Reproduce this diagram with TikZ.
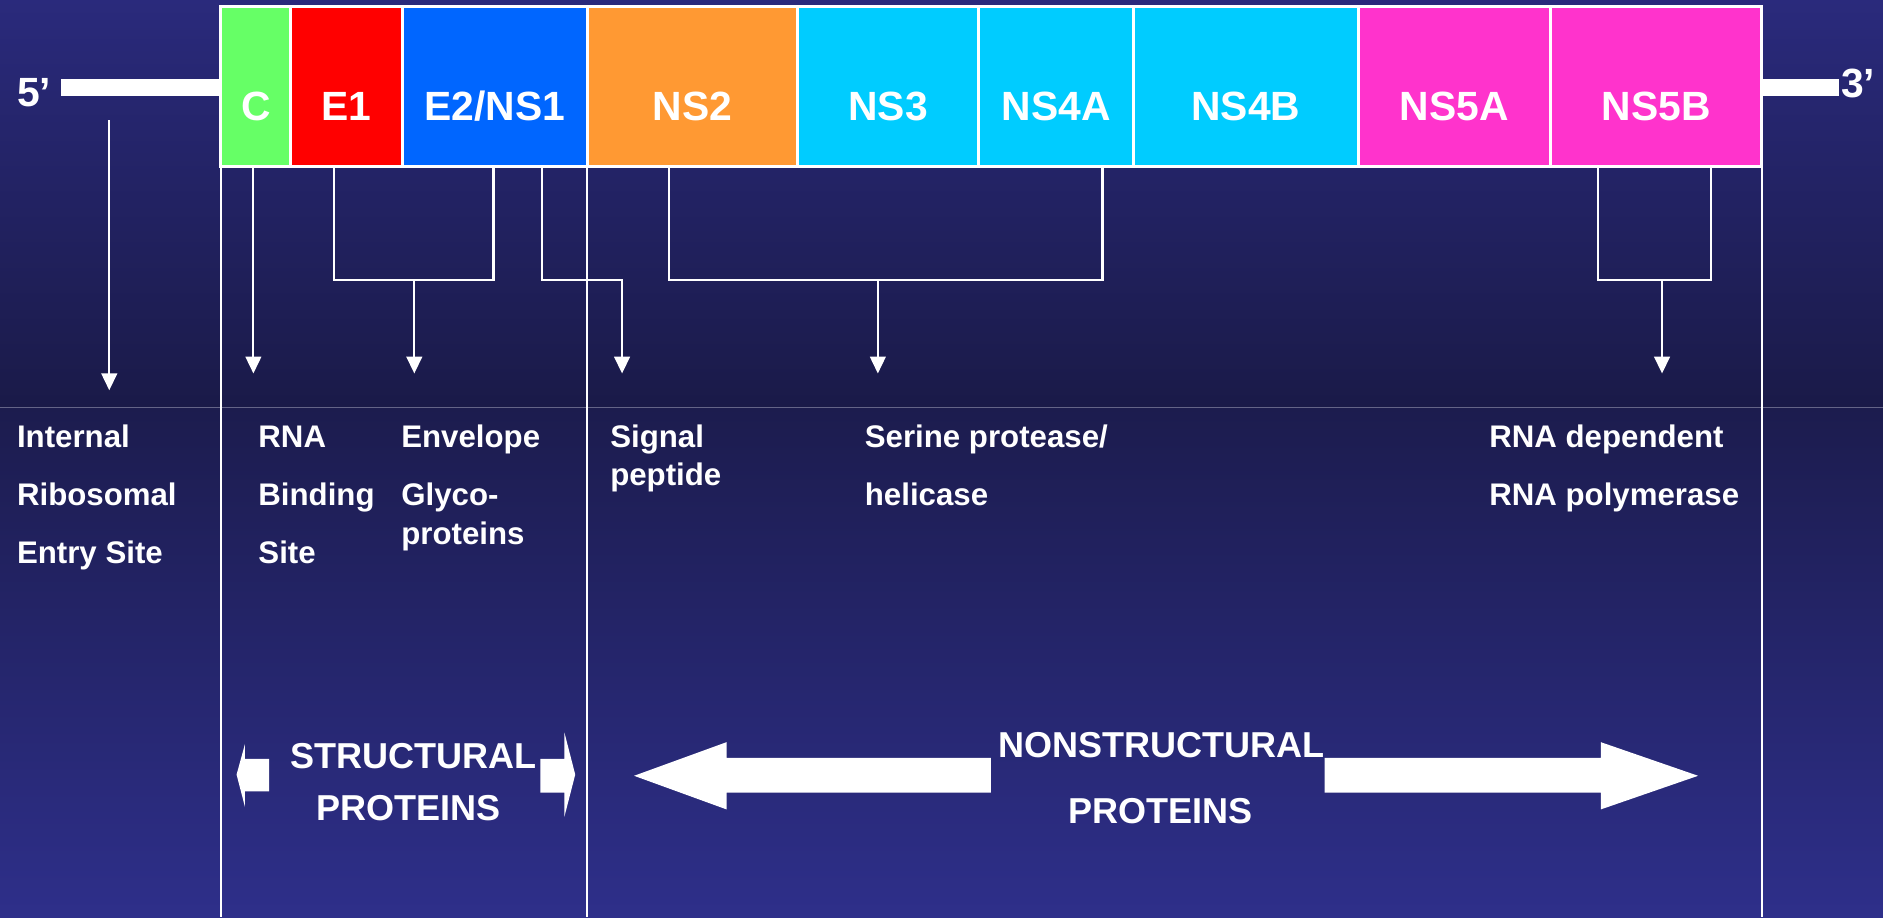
\documentclass[tikz,border=0pt]{standalone}
\usepackage{fontspec}
\setmainfont{Liberation Sans}
\usetikzlibrary{arrows.meta}
\definecolor{bgtop}{RGB}{42,42,124}
\definecolor{bgmid}{RGB}{26,26,72}
\definecolor{bgmidb}{RGB}{28,28,78}
\definecolor{bgbot}{RGB}{46,47,138}
\definecolor{cgreen}{RGB}{102,255,102}
\definecolor{cred}{RGB}{255,0,0}
\definecolor{cblue}{RGB}{0,102,255}
\definecolor{corange}{RGB}{255,153,51}
\definecolor{ccyan}{RGB}{0,204,255}
\definecolor{cmag}{RGB}{255,51,204}
\definecolor{sepgrey}{RGB}{100,100,135}
\begin{document}
\begin{tikzpicture}[x=1pt,y=-1pt,
 cell/.style={draw=white, line width=2.5pt, anchor=base, inner xsep=0pt, inner ysep=0pt, outer sep=0pt,
   text height=95pt, text depth=39pt, text=white, font=\fontsize{34}{40}\selectfont\bfseries},
 lbl/.style={anchor=base west, inner sep=0pt, text=white, font=\fontsize{26}{30}\selectfont\bfseries},
 endlbl/.style={anchor=base west, inner sep=0pt, text=white, font=\fontsize{34}{40}\selectfont\bfseries},
 big/.style={anchor=base, inner sep=0pt, text=white, font=\fontsize{30}{36}\selectfont\bfseries},
 conn/.style={draw=white, line width=1.8pt},
 frame/.style={draw=white, line width=2pt},
 arr/.style={conn, -{Triangle[width=13pt,length=14pt]}},
 bigarrow/.style={fill=white}]
\useasboundingbox (0,0) rectangle (1568,764);
% background
\shade[top color=bgtop, bottom color=bgmid] (0,0) rectangle (1568,339);
\shade[top color=bgmidb, bottom color=bgbot] (0,339) rectangle (1568,764);
\draw[sepgrey, line width=1pt] (0,339) -- (1568,339);

% cells
\node[cell, fill=cgreen, minimum width=58pt] (C) at (213,100) {C};
\node[cell, fill=cred, minimum width=93pt] (E1) at (288.5,100) {E1};
\node[cell, fill=cblue, minimum width=154pt] (E2) at (412,100) {E2/NS1};
\node[cell, fill=corange, minimum width=175pt] (NS2) at (576.5,100) {NS2};
\node[cell, fill=ccyan, minimum width=151pt] (NS3) at (739.5,100) {NS3};
\node[cell, fill=ccyan, minimum width=129pt] (NS4A) at (879.5,100) {NS4A};
\node[cell, fill=ccyan, minimum width=187pt] (NS4B) at (1037.5,100) {NS4B};
\node[cell, fill=cmag, minimum width=160pt] (NS5A) at (1211,100) {NS5A};
\node[cell, fill=cmag, minimum width=176pt] (NS5B) at (1379,100) {NS5B};

% frame lines
\coordinate (fL) at (184,764);
\coordinate (fM) at (489,764);
\coordinate (fR) at (1467,764);
\draw[frame] (C.south west) -- (fL);
\draw[frame] (E2.south east) -- (fM);
\draw[frame] (NS5B.south east) -- (fR);

% 5' and 3' ends
\coordinate (b5a) at (51,66);
\coordinate (b3b) at (1531,80);
\fill[white] (b5a) rectangle (184,80);
\fill[white] (1466,66) rectangle (b3b);
\node[endlbl] (five) at (14,89) {5’};
\node[endlbl] (three) at (1533,81) {3’};

% connectors
\coordinate (iresS) at (91,100);
\coordinate (iresE) at (91,325);
\draw[arr] (iresS) -- (iresE);

\coordinate (cS) at (211,139);
\coordinate (cE) at (211,311);
\draw[arr] (cS) -- (cE);

\coordinate (e1a) at (278,139);
\coordinate (e1b) at (411,139);
\coordinate (e1m) at (345,233);
\coordinate (e1E) at (345,311);
\draw[conn] (e1a) |- (e1b |- e1m) -- (e1b);
\draw[arr] (e1m) -- (e1E);

\coordinate (spS) at (451,139);
\coordinate (spE) at (518,311);
\draw[arr] (spS) |- (518,233) -- (spE);

\coordinate (n3a) at (557,139);
\coordinate (n3b) at (918,139);
\coordinate (n3m) at (731,233);
\coordinate (n3E) at (731,311);
\draw[conn] (n3a) |- (n3b |- n3m) -- (n3b);
\draw[arr] (n3m) -- (n3E);

\coordinate (n5a) at (1331,139);
\coordinate (n5b) at (1425,139);
\coordinate (n5m) at (1384,233);
\coordinate (n5E) at (1384,311);
\draw[conn] (n5a) |- (n5b |- n5m) -- (n5b);
\draw[arr] (n5m) -- (n5E);

% labels
\node[lbl] (ires1) at (14,373) {Internal};
\node[lbl] (ires2) at (14,421) {Ribosomal};
\node[lbl] (ires3) at (14,469) {Entry Site};
\node[lbl] (rna1) at (215,373) {RNA};
\node[lbl] (rna2) at (215,421) {Binding};
\node[lbl] (rna3) at (215,469) {Site};
\node[lbl] (env1) at (334,373) {Envelope};
\node[lbl] (env2) at (334,421) {Glyco-};
\node[lbl] (env3) at (334,453) {proteins};
\node[lbl] (sig1) at (508,373) {Signal};
\node[lbl] (sig2) at (508,404) {peptide};
\node[lbl] (ser1) at (720,373) {Serine protease/};
\node[lbl] (ser2) at (720,421) {helicase};
\node[lbl] (pol1) at (1240,373) {RNA dependent};
\node[lbl] (pol2) at (1240,421) {RNA polymerase};

% big arrows
\fill[bigarrow] (197,645) -- (204,619.5) -- (204,632) -- (224,632) -- (224,659) -- (204,659) -- (204,672) -- cycle;
\fill[bigarrow] (479,645) -- (470,610) -- (470,632) -- (450,632) -- (450,660) -- (470,660) -- (470,680) -- cycle;
\fill[bigarrow] (528,646) -- (605,618) -- (605,631) -- (825,631) -- (825,660) -- (605,660) -- (605,674) -- cycle;
\fill[bigarrow] (1414,646) -- (1333,618) -- (1333,631) -- (1103,631) -- (1103,660) -- (1333,660) -- (1333,674) -- cycle;

\node[big] (st1) at (344,640) {STRUCTURAL};
\node[big] (st2) at (340.5,683) {PROTEINS};
\node[big] (ns1) at (967,631) {NONSTRUCTURAL};
\node[big] (ns2) at (966.5,686) {PROTEINS};
\end{tikzpicture}
\end{document}
